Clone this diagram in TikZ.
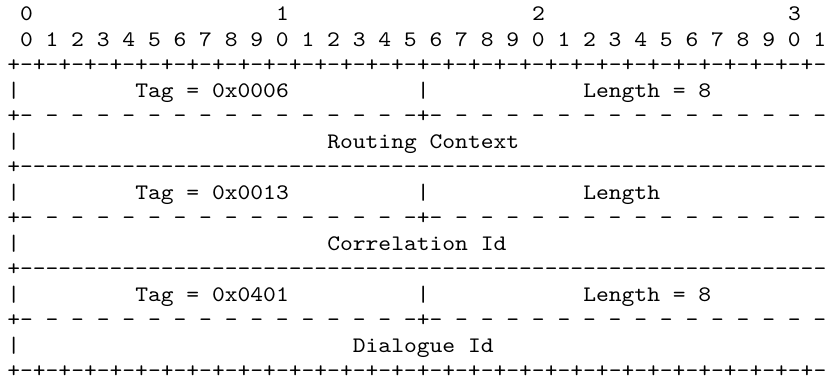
\documentclass[tikz,border=0pt]{standalone}
\usepackage{fontspec}
\setmonofont{lmmono10-regular.otf}[FakeStretch=1.1]
\tikzset{
  ascii/.style={
    font=\ttfamily\fontsize{16.62pt}{19pt}\selectfont,
    inner sep=0pt,
    anchor=base west,
    text=black
  },
  ruler/.style={ascii},
  field/.style={ascii}
}
% one character cell and one text line, in pixels
\newcommand{\charw}{12.8}
\newcommand{\lineh}{25.5}
\newcommand{\leftx}{7}
\newcommand{\basey}{20.5}

\begin{document}
\begin{tikzpicture}[x=0.75pt,y=-0.75pt]
  \useasboundingbox (0,0) rectangle (828,383);
  % Bit numbers
  \foreach \d/\c in {0/1,1/21,2/41,3/61}
    \node[ruler] (tens\d) at ({\leftx+\charw*\c},{\basey}) {\d};
  \node[ruler] (bits) at ({\leftx+\charw*1},{\basey+\lineh}) {0 1 2 3 4 5 6 7 8 9 0 1 2 3 4 5 6 7 8 9 0 1 2 3 4 5 6 7 8 9 0 1};
  % Top border
  \node[ruler] (top) at ({\leftx},{\basey+\lineh*2}) {+-+-+-+-+-+-+-+-+-+-+-+-+-+-+-+-+-+-+-+-+-+-+-+-+-+-+-+-+-+-+-+-};
  % Routing Context parameter
  \node[field] (bar1) at ({\leftx},{\basey+\lineh*3}) {|};
  \node[field] (tag1) at ({\leftx+\charw*10},{\basey+\lineh*3}) {Tag = 0x0006};
  \node[field] (mid1) at ({\leftx+\charw*32},{\basey+\lineh*3}) {|};
  \node[field] (len1) at ({\leftx+\charw*45},{\basey+\lineh*3}) {Length = 8};
  \node[ruler] (dash1) at ({\leftx},{\basey+\lineh*4}) {+-\ -\ -\ -\ -\ -\ -\ -\ -\ -\ -\ -\ -\ -\ -\ -+-\ -\ -\ -\ -\ -\ -\ -\ -\ -\ -\ -\ -\ -\ -\ -};
  \node[field] (bar2) at ({\leftx},{\basey+\lineh*5}) {|};
  \node[field] (rctx) at ({\leftx+\charw*25},{\basey+\lineh*5}) {Routing Context};
  \node[ruler] (line1) at ({\leftx},{\basey+\lineh*6}) {+---------------------------------------------------------------};
  % Correlation Id parameter
  \node[field] (bar3) at ({\leftx},{\basey+\lineh*7}) {|};
  \node[field] (tag2) at ({\leftx+\charw*10},{\basey+\lineh*7}) {Tag = 0x0013};
  \node[field] (mid2) at ({\leftx+\charw*32},{\basey+\lineh*7}) {|};
  \node[field] (len2) at ({\leftx+\charw*45},{\basey+\lineh*7}) {Length};
  \node[ruler] (dash2) at ({\leftx},{\basey+\lineh*8}) {+-\ -\ -\ -\ -\ -\ -\ -\ -\ -\ -\ -\ -\ -\ -\ -+-\ -\ -\ -\ -\ -\ -\ -\ -\ -\ -\ -\ -\ -\ -\ -};
  \node[field] (bar4) at ({\leftx},{\basey+\lineh*9}) {|};
  \node[field] (corr) at ({\leftx+\charw*25},{\basey+\lineh*9}) {Correlation Id};
  \node[ruler] (line2) at ({\leftx},{\basey+\lineh*10}) {+---------------------------------------------------------------};
  % Dialogue Id parameter
  \node[field] (bar5) at ({\leftx},{\basey+\lineh*11}) {|};
  \node[field] (tag3) at ({\leftx+\charw*10},{\basey+\lineh*11}) {Tag = 0x0401};
  \node[field] (mid3) at ({\leftx+\charw*32},{\basey+\lineh*11}) {|};
  \node[field] (len3) at ({\leftx+\charw*45},{\basey+\lineh*11}) {Length = 8};
  \node[ruler] (dash3) at ({\leftx},{\basey+\lineh*12}) {+-\ -\ -\ -\ -\ -\ -\ -\ -\ -\ -\ -\ -\ -\ -\ -+-\ -\ -\ -\ -\ -\ -\ -\ -\ -\ -\ -\ -\ -\ -\ -};
  \node[field] (bar6) at ({\leftx},{\basey+\lineh*13}) {|};
  \node[field] (dlg) at ({\leftx+\charw*27},{\basey+\lineh*13}) {Dialogue Id};
  % Bottom border
  \node[ruler] (bottom) at ({\leftx},{\basey+\lineh*14}) {+-+-+-+-+-+-+-+-+-+-+-+-+-+-+-+-+-+-+-+-+-+-+-+-+-+-+-+-+-+-+-+-};
\end{tikzpicture}
\end{document}
